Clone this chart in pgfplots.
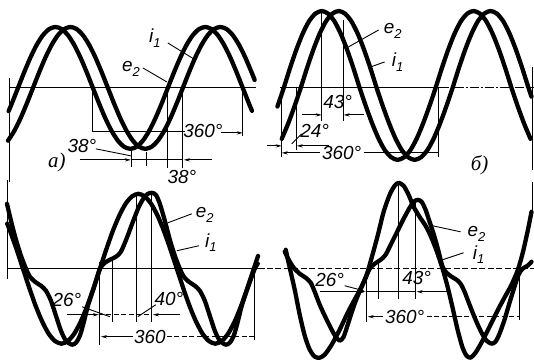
\documentclass[border=0pt]{standalone}
\usepackage{fontspec}
\setmainfont{Liberation Sans}
\newfontfamily\cyrserif{Liberation Serif}
\usepackage{pgfplots}
\pgfplotsset{compat=1.18}
\usetikzlibrary{arrows.meta}

\tikzset{
  wave/.style={black, line width=4.3bp, line cap=round, line join=round, smooth, tension=0.45},
  dim/.style={black, line width=0.9bp},
  dimd/.style={black, line width=0.9bp, dash pattern=on 5bp off 2.5bp},
  axisline/.style={black, line width=1bp},
  >={Stealth[length=6bp,width=3.2bp]},
  lab/.style={font=\fontsize{19}{19}\selectfont\itshape, inner sep=0pt},
  plab/.style={font=\cyrserif\fontsize{21}{21}\selectfont\itshape, inner sep=0pt},
}
\newcommand\sub[1]{\raisebox{-0.45ex}{\fontsize{13}{13}\selectfont #1}}

\begin{document}
\begin{tikzpicture}
\fill[white] (0,0) rectangle (534bp,363bp);
\begin{axis}[
  at={(0,0)}, anchor=south west,
  width=534bp, height=363bp, scale only axis,
  xmin=0, xmax=534, ymin=0, ymax=363, y dir=reverse,
  hide axis, clip=false,
]

% ---------------- panel a ----------------
% e2
\addplot[wave] coordinates {
(8.6,111.3)(11.75,103.8)(18,88)(24.25,72.2)(30.5,57.5)(36.75,44.9)(43,35.2)(49.25,29.1)
(55.5,27)(61.75,29.1)(68,35.2)(74.25,44.9)(80.5,57.5)(86.75,72.2)(93,88)(99.25,103.8)
(105.5,118.5)(111.75,131.1)(118,140.8)(124.25,146.9)(130.5,149)(136.75,146.9)(143,140.8)
(149.25,131.1)(155.5,118.5)(161.75,103.8)(168,88)(174.25,72.2)(180.5,57.5)(186.75,44.9)
(193,35.2)(199.25,29.1)(205.5,27)(211.75,29.1)(218,35.2)(224.25,44.9)(230.5,57.5)
(236.75,72.2)(243,88)(249.25,103.8)(252.2,110.9)};
% i1
\addplot[wave] coordinates {
(8,140.8)(14.25,131.1)(20.5,118.5)(26.75,103.8)(33,88)(39.25,72.2)(45.5,57.5)(51.75,44.9)
(58,35.2)(64.25,29.1)(70.5,27)(76.75,29.1)(83,35.2)(89.25,44.9)(95.5,57.5)(101.75,72.2)
(108,88)(114.25,103.8)(120.5,118.5)(126.75,131.1)(133,140.8)(139.25,146.9)(145.5,149)
(151.75,146.9)(158,140.8)(164.25,131.1)(170.5,118.5)(176.75,103.8)(183,88)(189.25,72.2)
(195.5,57.5)(201.75,44.9)(208,35.2)(214.25,29.1)(220.5,27)(226.75,29.1)(233,35.2)
(239.25,44.9)(245.5,57.5)(251.75,72.2)(254.9,80)};

\draw[axisline] (9,88) -- (256,88);
\draw[dim] (9,78) -- (9,182);
\draw[dim] (93,88) -- (93,132);
\draw[dim] (243,88) -- (243,136);
\draw[dim] (168,88) -- (168,168);
\draw[dim] (183,88) -- (183,168);
\draw[dim] (93,132) -- (185,132);
\draw[dim,->] (221,133) -- (243,133);
\draw[dim,->] (80,160) -- (131,160);
\draw[dim] (131,160) -- (183,160);
\draw[dim,<-] (184,160) -- (212,160);
\draw[dim] (132,150) -- (132,167);
\draw[dim] (147,152) -- (147,166);
\draw[dim] (96,149) -- (131,156);
\draw[dim] (143,68) -- (167,82);
\draw[dim] (168,43) -- (194,59);
\node[lab] at (131,69) {e\sub{2}};
\node[lab] at (155,38) {i\sub{1}};
\node[lab] at (82,146) {38°};
\node[lab] at (182,177) {38°};
\node[lab] at (203,131) {360°};
\node[plab] at (57,163) {а)};

% ---------------- panel b ----------------
% e2
\addplot[wave] coordinates {
(277.7,106.6)(284,88)(290.3,68.1)(296.7,49.5)(303,33.6)(309.3,21.3)(315.7,13.6)(322,11)
(328.3,13.6)(334.7,21.3)(341,33.6)(347.3,49.5)(353.7,68.1)(360,88)(366.3,106.6)(372.7,124)
(379,138.9)(385.3,150.4)(391.7,157.5)(398,160)(404.3,157.5)(410.7,150.4)(417,138.9)
(423.3,124)(429.7,106.6)(436,88)(442.3,68.1)(448.7,49.5)(455,33.6)(461.3,21.3)(467.7,13.6)
(474,11)(480.3,13.6)(486.7,21.3)(493,33.6)(499.3,49.5)(505.7,68.1)(512,88)(518.3,106.6)
(524.7,124)(531,138.9)};
% i1
\addplot[wave] coordinates {
(282,138.9)(288.3,124)(294.7,106.6)(301,88)(307.3,68.1)(313.7,49.5)(320,33.6)(326.3,21.3)
(332.7,13.6)(339,11)(345.3,13.6)(351.7,21.3)(358,33.6)(364.3,49.5)(370.7,68.1)(377,88)
(383.3,106.6)(389.7,124)(396,138.9)(402.3,150.4)(408.7,157.5)(415,160)(421.3,157.5)
(427.7,150.4)(434,138.9)(440.3,124)(446.7,106.6)(453,88)(459.3,68.1)(465.7,49.5)(472,33.6)
(478.3,21.3)(484.7,13.6)(491,11)(497.3,13.6)(503.7,21.3)(510,33.6)(516.3,49.5)(522.7,68.1)
(529,88)(532,96.8)};

\draw[axisline] (280,88) -- (440,88);
\draw[axisline, dash pattern=on 9bp off 2bp on 2bp off 2bp] (440,88) -- (534,88);
\draw[dim] (282,88) -- (282,157);
\draw[dim] (297,88) -- (297,150);
\draw[dim] (322,10) -- (322,121);
\draw[dim] (344,20) -- (344,121);
\draw[dim] (439,88) -- (439,157);
\draw[dim] (533,67) -- (533,170);
\draw[dim,->] (302,115) -- (322,115);
\draw[dim,->] (364,115) -- (344,115);
\draw[dim,->] (267,146) -- (282,146);
\draw[dim,->] (329,146) -- (297,146);
\draw[dim] (292,144) -- (302,134);
\draw[dim,<-] (282,153) -- (320,153);
\draw[dim] (364,153) -- (439,153);
\draw[dim] (379,30) -- (347,48);
\draw[dim] (385,62) -- (371,67);
\node[lab] at (393,31) {e\sub{2}};
\node[lab] at (398,62) {i\sub{1}};
\node[lab] at (338,102) {43°};
\node[lab] at (315,131) {24°};
\node[lab] at (342,153) {360°};
\node[plab] at (480,165) {б)};

% ---------------- panel c ----------------
% e2
\addplot[wave] coordinates {
(7.2,223.9)(10.2,231.5)(16.6,249.6)(23,269)(29.4,288.4)(35.8,306.5)(42.3,322)(48.7,334)
(55.1,341.4)(61.5,344)(67.9,341.4)(74.3,334)(80.8,322)(87.2,306.5)(93.6,288.4)(100,269)
(106.4,249.6)(112.8,231.5)(119.3,216)(125.7,204)(132.1,196.6)(138.5,194)(144.9,196.6)
(151.3,204)(157.8,216)(164.2,231.5)(170.6,249.6)(177,269)(183.4,288.4)(189.8,306.5)
(196.3,322)(202.7,334)(209.1,341.4)(215.5,344)(221.9,341.4)(228.3,334)(234.8,322)
(241.2,306.5)(247.6,288.4)(254,269)(258.3,256.2)};
% i1
\addplot[wave] coordinates {
(7,204)(11,221)(16,240)(21,256)(26,269)(30,277)(35,282)(41,286)(46,291)(51,301)(56,316)
(61,331)(66,341)(72,345)(76,343)(80,336)(84,322)(88,306)(94,288)(100,269)(105,263)
(110,260)(116,257)(121,252)(127,238)(133,222)(139,207)(144,198)(148,194)(152,193)
(156,195)(160,204)(165,221)(170,240)(175,256)(180,269)(184,277)(189,282)(195,286)
(200,291)(205,301)(210,316)(215,331)(220,341)(226,345)(230,343)(234,336)(238,322)
(242,306)(248,288)(255,269)(258,264)};

\draw[axisline] (7,269) -- (265,269);
\draw[dim] (7,180) -- (7,279);
\draw[dim] (100,262) -- (100,345);
\draw[dim] (113,258) -- (113,322);
\draw[dim] (137,194) -- (137,322);
\draw[dim] (152,193) -- (152,322);
\draw[dim] (255,269) -- (255,340);
\draw[dim,->] (67,315) -- (99,315);
\draw[dimd] (99,315) -- (152,315);
\draw[dim,<-] (153,315) -- (180,315);
\draw[dim] (82,307) -- (110,317);
\draw[dim] (138,317) -- (156,305);
\draw[dim,<-] (101,337) -- (133,337);
\draw[dimd] (167,337) -- (255,337);
\draw[dim] (192,214) -- (168,223);
\draw[dim] (199,246) -- (177,251);
\node[lab] at (205,215) {e\sub{2}};
\node[lab] at (211,243) {i\sub{1}};
\node[lab] at (67,300) {26°};
\node[lab] at (169,299) {40°};
\node[lab] at (150,337) {360};

% ---------------- panel d ----------------
% e2
\addplot[wave] coordinates {
(286,250)(290,268)(295,290)(300,315)(305,336)(310,350)(315,357)(320,358)(325,355)(332,345)
(340,330)(348,313)(356,298)(362,287)(367,275)(372,258)(378,236)(384,212)(390,195)(395,186)
(399,183)(404,186)(409,195)(414,207)(420,217)(426,226)(431,236)(437,251)(443,269)(448,287)
(453,308)(458,330)(463,348)(467,356)(471,358)(476,353)(483,341)(491,325)(499,309)(506,296)
(512,285)(518,271)(523,254)(528,232)(532,212)};
% i1
\addplot[wave] coordinates {
(285,252)(289,260)(294,268)(300,274)(306,278)(311,283)(315,292)(320,305)(326,318)(332,330)
(336,337)(340,341)(344,337)(349,322)(355,304)(361,289)(366,278)(370,269)(375,264)(381,260)
(386,255)(392,243)(398,231)(404,219)(410,208)(414,202)(418,200)(422,202)(426,210)(430,222)
(434,234)(438,248)(443,267)(447,273)(452,277)(457,280)(461,284)(465,292)(470,305)(476,320)
(482,333)(487,341)(492,344)(496,342)(500,334)(505,320)(510,303)(515,287)(519,275)(523,269)
(528,266)(532,262)};

\draw[axisline, dash pattern=on 6bp off 2.5bp] (267,269) -- (534,269);
\draw[dim] (367,269) -- (367,322);
\draw[dim] (379,262) -- (379,299);
\draw[dim] (399,183) -- (399,299);
\draw[dim] (416,203) -- (416,299);
\draw[dim] (520,269) -- (520,320);
\draw[dim] (533,182) -- (533,215);
\draw[dim,->] (320,292) -- (366,292);
\draw[dim] (366,292) -- (416,292);
\draw[dim,<-] (417,292) -- (447,292);
\draw[dim] (345,286) -- (364,291);
\draw[dim,<-] (368,317) -- (383,317);
\draw[dimd] (427,317) -- (520,317);
\draw[dim] (461,232) -- (433,226);
\draw[dim] (464,253) -- (443,260);
\node[lab] at (477,234) {e\sub{2}};
\node[lab] at (479,255) {i\sub{1}};
\node[lab] at (330,280) {26°};
\node[lab] at (417,278) {43°};
\node[lab] at (405,317) {360°};

\end{axis}
\end{tikzpicture}
\end{document}
